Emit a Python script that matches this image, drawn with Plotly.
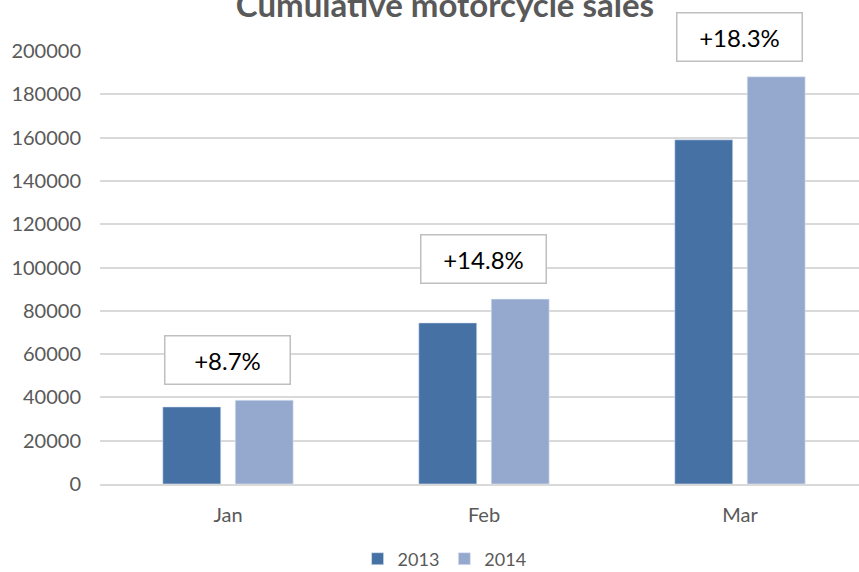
import plotly.graph_objects as go

categories = ["Jan", "Feb", "Mar"]
sales_2013 = [35600, 74400, 159000]
sales_2014 = [38700, 85400, 188100]
growth_labels = ["+8.7%", "+14.8%", "+18.3%"]
y_ticks = [0, 20000, 40000, 60000, 80000, 100000, 120000, 140000, 160000, 180000, 200000]

FONT = "Lato, 'Open Sans', sans-serif"
GRAY = "#595959"

fig = go.Figure()
fig.add_trace(go.Bar(name="2013", x=categories, y=sales_2013, marker=dict(color="#4571a5", line=dict(color="#dbe4f0", width=0.6))))
fig.add_trace(go.Bar(name="2014", x=categories, y=sales_2014, marker=dict(color="#95a9cf", line=dict(color="#e3e9f3", width=0.6))))

for c, a, b, lab in zip(categories, sales_2013, sales_2014, growth_labels):
    fig.add_annotation(x=c, y=max(a, b), yanchor="bottom", yshift=15, text=lab, showarrow=False,
                       font=dict(family=FONT, size=24, color="#000000"),
                       bordercolor="#bfbfbf", borderwidth=1.5, bgcolor="#ffffff",
                       width=122, height=45)

fig.update_layout(
    width=859, height=572,
    margin=dict(l=100, r=0, t=51, b=88, autoexpand=False),
    paper_bgcolor="white", plot_bgcolor="white",
    barmode="group", bargap=0.434, bargroupgap=0.2,
    title=dict(text="<b>Cumulative motorcycle sales</b>", x=0.518, xanchor="center",
               yref="container", y=1 - 5 / 572, yanchor="middle",
               font=dict(family=FONT, size=33, color=GRAY)),
    font=dict(family=FONT, size=20, color=GRAY),
    showlegend=True,
    legend=dict(orientation="h", x=0.454, xanchor="center", yref="container", y=13 / 572, yanchor="middle",
                font=dict(family=FONT, size=18, color=GRAY), itemwidth=30, traceorder="normal"),
    xaxis=dict(range=[-0.5, 2.465], showgrid=False, showline=True, linecolor="#d9d9d9", linewidth=1.5,
               ticks="", tickfont=dict(family=FONT, size=20, color=GRAY), ticklabelstandoff=12,
               automargin=False),
    yaxis=dict(range=[0, 200000], tickvals=y_ticks, ticktext=[str(v) for v in y_ticks],
               showgrid=True, gridcolor="#d9d9d9", gridwidth=1.5, zeroline=False,
               ticks="", tickfont=dict(family=FONT, size=20, color=GRAY), ticklabelstandoff=18,
               automargin=False),
)

fig.write_html("out.html")
